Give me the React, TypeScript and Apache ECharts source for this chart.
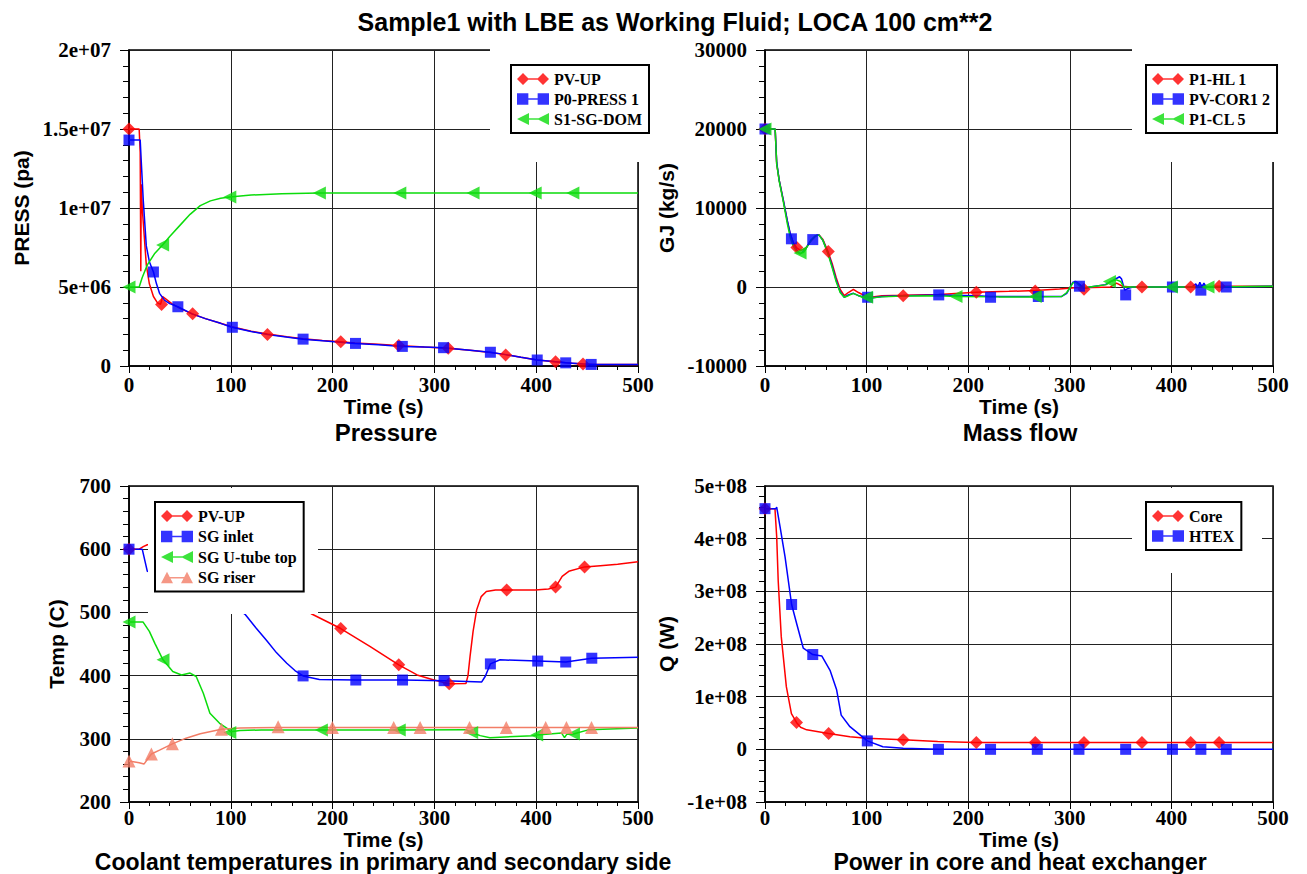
import React, { useEffect, useRef } from "react";
import * as echarts from "echarts";

// ---------- tick labels ----------
const timeTicks = ["0", "100", "200", "300", "400", "500"];
const pressTickLabels = ["0", "5e+06", "1e+07", "1.5e+07", "2e+07"];
const flowTickLabels = ["-10000", "0", "10000", "20000", "30000"];
const tempTickLabels = ["200", "300", "400", "500", "600", "700"];
const powerTickLabels = ["-1e+08", "0", "1e+08", "2e+08", "3e+08", "4e+08", "5e+08"];

// ---------- Pressure (Pa) ----------
const pvUpPress = [[0,15.0e6],[10,15.0e6],[11,13.5e6],[11.6,6.0e6],[12,11.5e6],[13,10.0e6],[15,8.2e6],[17,6.4e6],[20,5.2e6],[24,4.4e6],[28,4.0e6],[31,3.9e6],[33,4.4e6],[36,4.25e6],[42,3.95e6],[50,3.65e6],[62,3.3e6],[75,3.0e6],[90,2.7e6],[101,2.48e6],[120,2.2e6],[136,2.02e6],[155,1.85e6],[171,1.72e6],[190,1.62e6],[208,1.54e6],[222,1.45e6],[245,1.38e6],[268,1.28e6],[290,1.2e6],[313,1.12e6],[335,1.0e6],[355,0.85e6],[370,0.72e6],[385,0.55e6],[401,0.38e6],[419,0.27e6],[435,0.18e6],[446,0.13e6],[460,0.1e6],[500,0.1e6]];
const pvUpPressMarks = [[0,15e6],[32,3.9e6],[62.5,3.3e6],[136,2.0e6],[208,1.54e6],[265,1.3e6],[313.6,1.12e6],[370,0.7e6],[419,0.27e6],[446,0.13e6]];
const p0Press = [[0,14.3e6],[11,14.3e6],[12,13.0e6],[14,10.5e6],[17,7.6e6],[20,6.6e6],[24,5.95e6],[27,5.2e6],[30,4.6e6],[35,4.15e6],[40,3.95e6],[48,3.75e6],[62,3.3e6],[75,3.0e6],[90,2.7e6],[101,2.45e6],[120,2.18e6],[136,2.0e6],[171,1.7e6],[190,1.6e6],[222,1.43e6],[245,1.35e6],[268,1.24e6],[290,1.2e6],[309,1.16e6],[335,1.0e6],[355,0.87e6],[370,0.72e6],[385,0.55e6],[401,0.38e6],[419,0.27e6],[429,0.2e6],[454,0.1e6],[500,0.1e6]];
const p0PressMarks = [[0,14.3e6],[24,5.95e6],[48,3.75e6],[101.5,2.45e6],[171,1.7e6],[222.5,1.43e6],[268.5,1.24e6],[309,1.16e6],[355,0.87e6],[401,0.38e6],[429,0.2e6],[454,0.1e6]];
const s1Dom = [[0,5.0e6],[10,5.0e6],[13,5.6e6],[18,6.4e6],[25,7.1e6],[33,7.66e6],[40,8.2e6],[50,8.9e6],[60,9.6e6],[70,10.15e6],[80,10.45e6],[90,10.62e6],[99,10.7e6],[120,10.82e6],[150,10.9e6],[187,10.95e6],[250,10.95e6],[500,10.95e6]];
const s1DomMarks = [[0,5.0e6],[33,7.66e6],[99,10.7e6],[187,10.95e6],[266,10.95e6],[338,10.95e6],[399,10.95e6],[436,10.95e6]];

// ---------- Mass flow (kg/s) ----------
const p1Hl = [[0,20000],[10,20000],[11.5,15600],[14,13500],[18,11000],[22,8300],[25,6600],[28,5600],[31,5000],[35,4600],[40,4900],[45,5800],[50,6500],[53,6600],[57,6000],[62,4500],[66,3000],[70,1200],[74,-300],[78,-1100],[82,-700],[87,-300],[92,-700],[98,-1100],[104,-1300],[115,-1100],[136,-1050],[171,-950],[208,-650],[240,-550],[266,-450],[290,-250],[305,-100],[314,-100],[340,0],[346,500],[352,100],[360,0],[371,0],[400,0],[419,0],[447,100],[470,100],[500,100]];
const p1HlMarks = [[0,20000],[31.4,5000],[62.3,4500],[136,-1100],[208,-650],[266,-500],[314,-300],[371,0],[419,0],[447,100]];
const pvCor = [[0,20000],[10,20000],[11.5,15800],[14,13500],[18,11000],[22,8400],[25,6700],[28,5500],[32,4500],[35,4200],[40,4800],[45,5900],[50,6500],[53,6600],[57,5900],[62,4300],[66,2700],[70,900],[74,-600],[78,-1300],[82,-1000],[87,-800],[92,-1100],[98,-1300],[104,-1400],[115,-1200],[136,-1100],[171,-1000],[208,-1100],[222,-1200],[266,-1200],[292,-1200],[297,-800],[303,600],[306,700],[310,300],[314,-200],[320,0],[335,300],[342,800],[349,1300],[351,1000],[354,-400],[357,-200],[362,0],[400,0],[420,0],[424,400],[426,-100],[428,600],[430,0],[432,500],[434,0],[454,0],[500,100]];
const pvCorMarks = [[0,20000],[26,6100],[47,6000],[101,-1300],[171,-1000],[222,-1300],[269,-1200],[309.5,100],[355,-1000],[401,0],[429,-400],[454,0]];
const p1Cl = [[0,20000],[10,20000],[11.5,15600],[14,13400],[18,10800],[22,8000],[25,6200],[28,5100],[31,4500],[34,4200],[38,4400],[42,5200],[46,6000],[50,6500],[53,6600],[57,5900],[62,4200],[66,2500],[70,700],[74,-700],[78,-1300],[82,-1100],[87,-800],[92,-1100],[98,-1300],[104,-1400],[115,-1250],[136,-1150],[171,-1100],[188,-1200],[230,-1250],[266,-1250],[292,-1200],[297,-700],[303,500],[306,600],[310,100],[314,-100],[325,100],[336,300],[340,700],[346,900],[350,700],[353,0],[360,0],[400,0],[436,0],[500,100]];
const p1ClMarks = [[0,20000],[34.5,4300],[100,-1300],[188,-1200],[266,-1200],[339,700],[400,0],[436,0]];

// ---------- Temperatures (C) ----------
const pvUpTemp = [[0,600],[10,600],[14,604],[18,607],[50,612],[100,585],[150,530],[180,497],[208,474.5],[237,446],[265,417],[283,401],[299.5,393],[314.5,387],[331,387.5],[333,400],[335,430],[338,470],[341.5,504],[346,525],[351,533],[360,535.5],[371,535.5],[399,535.5],[412,537],[419,540],[425.5,557],[432,565],[447.5,572],[463,574],[480,576],[500,580]];
const pvUpTempMarks = [[0,600],[208,474.5],[265,417],[314.5,387],[371,535.5],[419,540],[447.5,572]];
const sgInlet = [[0,600],[13,600],[18,565],[50,555],[80,535],[100,515],[114,497],[125,475],[135,456],[145,436],[155,419.5],[163,408],[171,399.5],[187,394],[223,393],[269,393],[310,392],[346.5,390],[350,399],[355,418.5],[364.5,425],[401.5,423],[429,421.5],[454.6,427.5],[500,429]];
const sgInletMarks = [[0,600],[171,399.5],[222.8,393],[268.7,393],[309.5,392],[355,418.5],[401.5,423],[429,421.5],[454.6,427.5]];
const sgUtube = [[0,485],[13.7,485],[20,470],[25.4,451],[33.4,425],[43,406.5],[51.6,401],[60,404],[66,398.6],[73,372],[79.5,340.5],[89,324.5],[96,317],[100,311],[109,313],[130,314],[189,314],[265.5,314],[331,314.5],[336.6,310],[345,305],[354.6,301.8],[397,305],[400.5,306],[425,309],[427.8,302],[430,307],[436.6,307.6],[452,314.5],[500,317]];
const sgUtubeMarks = [[0,485],[33.4,425],[99,310],[189,314],[265.5,314],[336.6,310],[400.5,306],[436.6,307.6]];
const sgRiser = [[0,265],[10,262],[14.7,260],[22,276],[30,282],[42.6,292],[56,301],[70,308],[90.8,315],[109,317],[146.5,318],[500,318]];
const sgRiserMarks = [[0,265],[22,276],[42.6,292],[90.8,315],[146.5,319],[199.8,318],[260,318],[286,318],[334.5,318],[370.6,318],[409.3,318],[429.7,318],[454.3,318]];

// ---------- Power (W) ----------
const corePower = [[0,4.57e8],[9.8,4.57e8],[11.5,4.04e8],[13,3.2e8],[16,2.14e8],[21,1.19e8],[26,0.68e8],[31,0.51e8],[35,0.42e8],[41,0.37e8],[62.6,0.30e8],[83.6,0.24e8],[100,0.21e8],[136,0.18e8],[170,0.15e8],[207,0.13e8],[500,0.13e8]];
const corePowerMarks = [[0,4.57e8],[31,0.51e8],[62.6,0.30e8],[136,0.18e8],[208,0.13e8],[266,0.13e8],[314,0.13e8],[371,0.13e8],[419,0.13e8],[447,0.13e8]];
const htexPower = [[0,4.57e8],[10.8,4.57e8],[11.5,4.6e8],[14.8,4.23e8],[19.7,3.66e8],[26.2,2.75e8],[31,2.4e8],[37.7,1.92e8],[47,1.8e8],[56,1.77e8],[64,1.5e8],[70.5,1.13e8],[75,0.65e8],[83.6,0.43e8],[100.7,0.16e8],[116,0.05e8],[136,0.02e8],[170.7,0],[500,0]];
const htexPowerMarks = [[0,4.57e8],[26.2,2.75e8],[47,1.8e8],[100.7,0.16e8],[170.7,0],[222,0],[268,0],[309,0],[355,0],[401,0],[429,0],[454,0]];

const RED = "#ff0000";
const BLUE = "#0000ff";
const GREEN = "#0bdc0b";
const SALMON = "#f27d66";

const SANS = "Liberation Sans";
const SERIF = "Liberation Serif";

const ICON_DIAMOND = "path://M0,6L6,0L12,6L6,12Z M6,5.2L26,5.2L26,6.8L6,6.8Z M20,6L26,0L32,6L26,12Z";
const ICON_SQUARE = "path://M0.5,0.5L11.5,0.5L11.5,11.5L0.5,11.5Z M6,5.2L26,5.2L26,6.8L6,6.8Z M20.5,0.5L31.5,0.5L31.5,11.5L20.5,11.5Z";
const ICON_LTRI = "path://M0,6L12,0L12,12Z M6,5.2L26,5.2L26,6.8L6,6.8Z M20,6L32,0L32,12Z";
const ICON_UTRI = "path://M0,12L6,0.5L12,12Z M6,5.8L26,5.8L26,7.2L6,7.2Z M20,12L26,0.5L32,12Z";

function makeSeries(name: string, curve: number[][], marks: number[][], color: string, symbol: string, size: number, rotate: number, g: number) {
  return [
    {
      type: "scatter", name, xAxisIndex: g, yAxisIndex: g, data: marks,
      symbol, symbolSize: size, symbolRotate: rotate,
      itemStyle: { color, borderWidth: 0 }, z: 3, silent: true,
    },
    {
      type: "line", name, xAxisIndex: g, yAxisIndex: g, data: curve,
      showSymbol: false, symbol: "none", smooth: false,
      lineStyle: { color, width: 1.5 }, itemStyle: { color }, z: 2, silent: true,
    },
  ];
}

const GRIDS = [
  { left: 129, top: 50, width: 509, height: 316 },
  { left: 765, top: 50, width: 508, height: 316 },
  { left: 129, top: 486, width: 509, height: 316 },
  { left: 765, top: 486, width: 508, height: 316 },
];

const TICK_FONT = { fontFamily: SERIF, fontWeight: "bold" as const, fontSize: 21, color: "#000" };
const NAME_FONT = { fontFamily: SANS, fontWeight: "bold" as const, fontSize: 21, color: "#000" };

function xAxisFor(g: number, nameGap: number, labelMargin: number) {
  return {
    type: "value", gridIndex: g, min: 0, max: 500, interval: 100,
    name: "Time (s)", nameLocation: "middle", nameGap,
    nameTextStyle: { ...NAME_FONT, lineHeight: 20 },
    axisLine: { show: true, onZero: false, lineStyle: { color: "#000", width: 1.5 } },
    axisTick: { show: true, length: 7, lineStyle: { color: "#000", width: 1 } },
    minorTick: { show: true, splitNumber: 5, length: 4, lineStyle: { color: "#000", width: 1 } },
    axisLabel: {
      ...TICK_FONT, margin: labelMargin, lineHeight: 20,
      formatter: (v: number) => timeTicks[Math.round(v / 100)] ?? "",
    },
    splitLine: { show: true, lineStyle: { color: "#222", width: 1 } },
  };
}

function yAxisFor(g: number, min: number, max: number, interval: number, name: string, nameGap: number, labels: string[]) {
  return {
    type: "value", gridIndex: g, min, max, interval,
    name, nameLocation: "middle", nameGap,
    nameTextStyle: NAME_FONT,
    axisLine: { show: true, onZero: false, lineStyle: { color: "#000", width: 1.5 } },
    axisTick: { show: true, length: 9, lineStyle: { color: "#000", width: 1 } },
    minorTick: { show: true, splitNumber: 5, length: 6, lineStyle: { color: "#000", width: 1 } },
    axisLabel: {
      ...TICK_FONT, margin: 18,
      formatter: (v: number) => labels[Math.round((v - min) / interval)] ?? "",
    },
    splitLine: { show: true, lineStyle: { color: "#222", width: 1 } },
  };
}

function legendAt(left: number, top: number, items: { name: string; icon: string }[], gap: number) {
  return {
    left, top, orient: "vertical", data: items, z: 10,
    itemWidth: 32, itemHeight: 12, itemGap: gap,
    padding: [6, 7, 6, 6], borderColor: "#000", borderWidth: 2, backgroundColor: "#fff",
    selectedMode: false, itemStyle: { borderWidth: 0 },
    textStyle: { fontFamily: SERIF, fontWeight: "bold", fontSize: 16, color: "#000", lineHeight: 16 },
  };
}

function panelTitle(text: string, cx: number, cy: number, size: number) {
  return {
    text, left: cx, top: cy - size / 2, textAlign: "center", padding: 0,
    textStyle: { fontFamily: SANS, fontWeight: "bold", fontSize: size, color: "#000", lineHeight: size },
  };
}

export default function App() {
  const ref = useRef<HTMLDivElement>(null);
  useEffect(() => {
    if (!ref.current) return;
    const chart = echarts.init(ref.current, undefined, { renderer: "svg" });
    const series: any[] = [
      ...makeSeries("PV-UP", pvUpPress, pvUpPressMarks, RED, "diamond", 13, 0, 0),
      ...makeSeries("P0-PRESS 1", p0Press, p0PressMarks, BLUE, "rect", 11, 0, 0),
      ...makeSeries("S1-SG-DOM", s1Dom, s1DomMarks, GREEN, "triangle", 13, 90, 0),
      ...makeSeries("P1-HL 1", p1Hl, p1HlMarks, RED, "diamond", 13, 0, 1),
      ...makeSeries("PV-COR1 2", pvCor, pvCorMarks, BLUE, "rect", 11, 0, 1),
      ...makeSeries("P1-CL 5", p1Cl, p1ClMarks, GREEN, "triangle", 13, 90, 1),
      ...makeSeries("PV-UP", pvUpTemp, pvUpTempMarks, RED, "diamond", 13, 0, 2),
      ...makeSeries("SG inlet", sgInlet, sgInletMarks, BLUE, "rect", 11, 0, 2),
      ...makeSeries("SG U-tube top", sgUtube, sgUtubeMarks, GREEN, "triangle", 13, 90, 2),
      ...makeSeries("SG riser", sgRiser, sgRiserMarks, SALMON, "triangle", 13, 0, 2),
      ...makeSeries("Core", corePower, corePowerMarks, RED, "diamond", 13, 0, 3),
      ...makeSeries("HTEX", htexPower, htexPowerMarks, BLUE, "rect", 11, 0, 3),
    ];
    const mask = (x: number, y: number, w: number, h: number) => ({
      type: "rect", z: 5, silent: true, shape: { x, y, width: w, height: h }, style: { fill: "#fff" },
    });
    chart.setOption({
      animation: false,
      backgroundColor: "#fff",
      textStyle: { fontFamily: SANS },
      title: [
        panelTitle("Sample1 with LBE as Working Fluid; LOCA 100 cm**2", 675, 22, 25),
        panelTitle("Pressure", 386, 432, 24),
        panelTitle("Mass flow", 1020, 432, 24),
        panelTitle("Coolant temperatures in primary and secondary side", 383, 862, 23),
        panelTitle("Power in core and heat exchanger", 1020, 862, 23),
      ],
      grid: GRIDS.map((g) => ({ ...g, show: true, borderColor: "#000", borderWidth: 1.5, backgroundColor: "transparent" })),
      xAxis: [xAxisFor(0, 30, 9), xAxisFor(1, 30, 9), xAxisFor(2, 23, 6), xAxisFor(3, 23, 6)],
      yAxis: [
        yAxisFor(0, 0, 2e7, 5e6, "PRESS (pa)", 97, pressTickLabels),
        yAxisFor(1, -10000, 30000, 10000, "GJ (kg/s)", 88, flowTickLabels),
        yAxisFor(2, 200, 700, 100, "Temp (C)", 62, tempTickLabels),
        yAxisFor(3, -1e8, 5e8, 1e8, "Q (W)", 88, powerTickLabels),
      ],
      legend: [
        legendAt(511, 65, [
          { name: "PV-UP", icon: ICON_DIAMOND },
          { name: "P0-PRESS 1", icon: ICON_SQUARE },
          { name: "S1-SG-DOM", icon: ICON_LTRI },
        ], 4),
        legendAt(1146, 65, [
          { name: "P1-HL 1", icon: ICON_DIAMOND },
          { name: "PV-COR1 2", icon: ICON_SQUARE },
          { name: "P1-CL 5", icon: ICON_LTRI },
        ], 4),
        legendAt(155, 502, [
          { name: "PV-UP", icon: ICON_DIAMOND },
          { name: "SG inlet", icon: ICON_SQUARE },
          { name: "SG U-tube top", icon: ICON_LTRI },
          { name: "SG riser", icon: ICON_UTRI },
        ], 4.5),
        legendAt(1146, 502, [
          { name: "Core", icon: ICON_DIAMOND },
          { name: "HTEX", icon: ICON_SQUARE },
        ], 4),
      ],
      graphic: {
        elements: [
          mask(490, 47, 160, 115),
          mask(1132, 47, 165, 115),
          mask(148, 488, 170, 126),
          mask(1132, 488, 130, 85),
        ],
      },
      series,
    });
    return () => chart.dispose();
  }, []);
  return (
    <div
      ref={ref}
      style={{ position: "fixed", left: 0, top: 0, width: 1307, height: 874, background: "#fff" }}
    />
  );
}
